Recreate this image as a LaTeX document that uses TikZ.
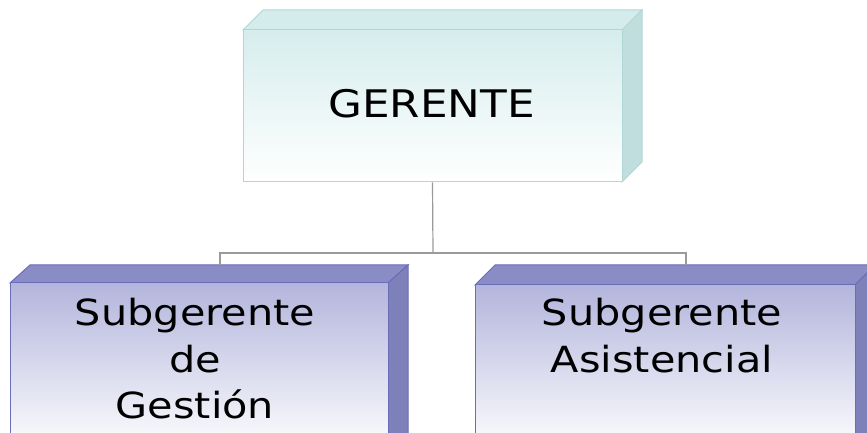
\documentclass[tikz,border=0pt]{standalone}
\usepackage{fontspec}
\setmainfont{DejaVu Sans}[FakeStretch=1.15]
\definecolor{cyfront}{HTML}{D6EDED}
\definecolor{cytop}{HTML}{D4ECEC}
\definecolor{cyside}{HTML}{C1DEDE}
\definecolor{cyline}{HTML}{B0D6D6}
\definecolor{pufront}{HTML}{B3B5DC}
\definecolor{putop}{HTML}{8A8CC6}
\definecolor{puside}{HTML}{7E80B9}
\definecolor{puline}{HTML}{6A6DB8}
\definecolor{conn}{HTML}{9A9A9A}
\tikzset{
  cyface/.style={draw=cyline, line width=1pt, top color=cyfront, bottom color=white, shading angle=0, inner sep=0pt},
  puface/.style={draw=puline, line width=1pt, top color=pufront, bottom color=white, inner sep=0pt},
  label36/.style={font=\fontsize{36}{46.5}\selectfont, align=center, inner sep=0pt, text=black},
  connector/.style={draw=conn, line width=1.2pt}
}
\begin{document}
\begin{tikzpicture}[x=1pt,y=1pt]
\useasboundingbox (0,0) rectangle (867,433);
\begin{scope}
\clip (0,0) rectangle (867,433);
% connectors (behind)
\coordinate (mid) at (433,180);
\coordinate (sgtop) at (220,168);
\coordinate (satop) at (686,168);
% top box
\fill[cytop, draw=cyline, line width=1pt] (243,403) -- (263,423) -- (642,423) -- (622,403) -- cycle;
\fill[cyside, draw=cyline, line width=1pt] (622,403) -- (642,423) -- (642,271) -- (622,251) -- cycle;
\node[cyface, minimum width=379pt, minimum height=152pt] (g) at (432.5,327) {};
% left box
\fill[putop, draw=puline, line width=1pt] (10,150) -- (30,168) -- (408,168) -- (388,150) -- cycle;
\fill[puside, draw=puline, line width=1pt] (388,150) -- (408,168) -- (408,-2) -- (388,-20) -- cycle;
\node[puface, minimum width=378pt, minimum height=170pt] (sg) at (199,65) {};
% right box
\fill[putop, draw=puline, line width=1pt] (475,148) -- (495,168) -- (875,168) -- (855,148) -- cycle;
\fill[puside, draw=puline, line width=1pt] (855,148) -- (875,168) -- (875,-2) -- (855,-20) -- cycle;
\node[puface, minimum width=380pt, minimum height=168pt] (sa) at (665,64) {};
% connectors
\draw[connector] (g.south) -- (mid);
\draw[connector] (sgtop) |- (mid) -| (satop);
% labels
\node[label36, font=\fontsize{38}{46}\selectfont, anchor=base] (gt) at (431.5,315) {GERENTE};
\node[label36, anchor=north] (sgt) at (195,135) {Subgerente\\de\\Gestión};
\node[label36, anchor=north] (sat) at (662,135) {Subgerente\\Asistencial};
\end{scope}
\end{tikzpicture}
\end{document}
